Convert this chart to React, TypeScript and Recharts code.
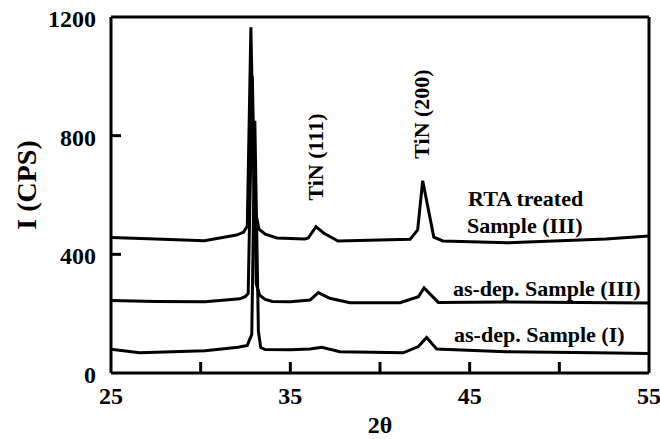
import { LineChart, Line, XAxis, YAxis, ReferenceDot, ReferenceLine } from 'recharts'

// 2θ positions and intensities (CPS)
const rtaAngles = [25, 27.5, 30.2, 32.0, 32.4, 32.6, 32.8, 33.0, 33.25, 33.6, 34.25, 35.8, 36.0, 36.43, 36.9, 37.66, 41.68, 42.1, 42.38, 43.0, 43.5, 47.1, 52.6, 55]
const rtaCounts = [457, 452, 446, 465, 475, 495, 1165, 560, 485, 468, 455, 452, 455, 493, 470, 445, 451, 482, 648, 458, 445, 439, 452, 462]

const dep3Angles = [25, 27.5, 30.24, 32.2, 32.5, 32.65, 32.88, 33.1, 33.29, 33.6, 34.0, 35.0, 36.1, 36.56, 37.2, 38.33, 41.12, 42.14, 42.46, 43.25, 47.0, 55]
const dep3Counts = [244, 241, 240, 250, 258, 268, 1000, 300, 262, 248, 241, 240, 246, 271, 252, 237, 237, 257, 287, 238, 239, 236]

const dep1Angles = [25, 26.6, 30.24, 32.08, 32.6, 32.85, 33.02, 33.22, 33.35, 33.6, 35.0, 36.1, 36.75, 37.77, 41.29, 42.14, 42.6, 43.16, 47.0, 52.0, 55]
const dep1Counts = [80, 68, 75, 87, 93, 130, 850, 140, 86, 79, 78, 81, 87, 72, 68, 89, 120, 81, 72, 68, 66]

const xTicks = [25, 30, 35, 40, 45, 50, 55]
const xTickLabels = [25, 35, 45, 55]
const yTicks = [0, 400, 800, 1200]

const toPoints = (xs: number[], ys: number[]) => xs.map((x, i) => ({ x, y: ys[i] }))

const rtaData = toPoints(rtaAngles, rtaCounts)
const dep3Data = toPoints(dep3Angles, dep3Counts)
const dep1Data = toPoints(dep1Angles, dep1Counts)

const FONT = '"Liberation Serif", "Times New Roman", serif'

const XTick = (props: any) => {
  const { x, y, payload } = props
  const v = payload.value
  const showMark = v !== 25 && v !== 55
  return (
    <g>
      {showMark && <line x1={x} y1={y} x2={x} y2={y - 11} stroke="#000" strokeWidth={3} />}
      {xTickLabels.includes(v) && (
        <text x={x} y={y + 31} textAnchor="middle" fontFamily={FONT} fontWeight="bold" fontSize={24} fill="#000">
          {v}
        </text>
      )}
    </g>
  )
}

const YTick = (props: any) => {
  const { x, y, payload } = props
  const v = payload.value
  const showMark = v !== 0 && v !== 1200
  return (
    <g>
      {showMark && <line x1={x} y1={y} x2={x + 10} y2={y} stroke="#000" strokeWidth={3} />}
      <text x={x - 15} y={y + 10} textAnchor="end" fontFamily={FONT} fontWeight="bold" fontSize={24} fill="#000">
        {v}
      </text>
    </g>
  )
}

const YLabel = (props: any) => {
  const { viewBox } = props
  const cx = viewBox.x + 26
  const cy = viewBox.y + viewBox.height / 2 - 10
  return (
    <text x={cx} y={cy} transform={`rotate(-90 ${cx} ${cy})`} textAnchor="middle" dominantBaseline="central"
      fontFamily={FONT} fontWeight="bold" fontSize={28} fill="#000">
      I (CPS)
    </text>
  )
}

const Anno = (props: any) => {
  const { viewBox, text, rotate, anchor } = props
  const cx = viewBox.x + (viewBox.width || 0) / 2
  const cy = viewBox.y + (viewBox.height || 0) / 2
  if (rotate) {
    return (
      <text x={cx} y={cy} transform={`rotate(-90 ${cx} ${cy})`} textAnchor="middle" dominantBaseline="central"
        fontFamily={FONT} fontWeight="bold" fontSize={22} fill="#000">
        {text}
      </text>
    )
  }
  return (
    <text x={cx} y={cy} textAnchor={anchor || 'start'} fontFamily={FONT} fontWeight="bold" fontSize={22} fill="#000">
      {text}
    </text>
  )
}

export default function App() {
  return (
    <div style={{ position: 'absolute', left: 0, top: 0, width: 660, height: 439, background: '#fff' }}>
      <LineChart width={660} height={439} margin={{ top: 17, right: 11, bottom: 0, left: 0 }}>
        <XAxis
          type="number"
          dataKey="x"
          domain={[25, 55]}
          ticks={xTicks}
          allowDataOverflow
          height={66}
          tickSize={0}
          tickMargin={0}
          tick={<XTick />}
          axisLine={{ stroke: '#000', strokeWidth: 3 }}
          label={{ value: '2θ', position: 'insideBottom', offset: 6, fontFamily: FONT, fontWeight: 'bold', fontSize: 24, fill: '#000' }}
        />
        <YAxis
          type="number"
          domain={[0, 1200]}
          ticks={yTicks}
          allowDataOverflow
          width={111}
          tickSize={0}
          tickMargin={0}
          tick={<YTick />}
          axisLine={{ stroke: '#000', strokeWidth: 3 }}
          label={<YLabel />}
        />

        {/* frame: top and right edges */}
        <ReferenceLine y={1200} stroke="#000" strokeWidth={3} ifOverflow="visible" />
        <ReferenceLine x={55} stroke="#000" strokeWidth={3} ifOverflow="visible" />

        <Line data={dep1Data} dataKey="y" type="linear" stroke="#000" strokeWidth={3} dot={false} isAnimationActive={false} />
        <Line data={dep3Data} dataKey="y" type="linear" stroke="#000" strokeWidth={3} dot={false} isAnimationActive={false} />
        <Line data={rtaData} dataKey="y" type="linear" stroke="#000" strokeWidth={3} dot={false} isAnimationActive={false} />

        <ReferenceDot x={36.38} y={728} r={0} fill="none" stroke="none" ifOverflow="visible" label={<Anno text="TiN (111)" rotate />} />
        <ReferenceDot x={42.33} y={873} r={0} fill="none" stroke="none" ifOverflow="visible" label={<Anno text="TiN (200)" rotate />} />
        <ReferenceDot x={44.91} y={563} r={0} fill="none" stroke="none" ifOverflow="visible" label={<Anno text="RTA treated" />} />
        <ReferenceDot x={44.85} y={472} r={0} fill="none" stroke="none" ifOverflow="visible" label={<Anno text="Sample (III)" />} />
        <ReferenceDot x={44.07} y={260} r={0} fill="none" stroke="none" ifOverflow="visible" label={<Anno text="as-dep. Sample (III)" />} />
        <ReferenceDot x={44.13} y={105} r={0} fill="none" stroke="none" ifOverflow="visible" label={<Anno text="as-dep. Sample (I)" />} />
      </LineChart>
    </div>
  )
}
